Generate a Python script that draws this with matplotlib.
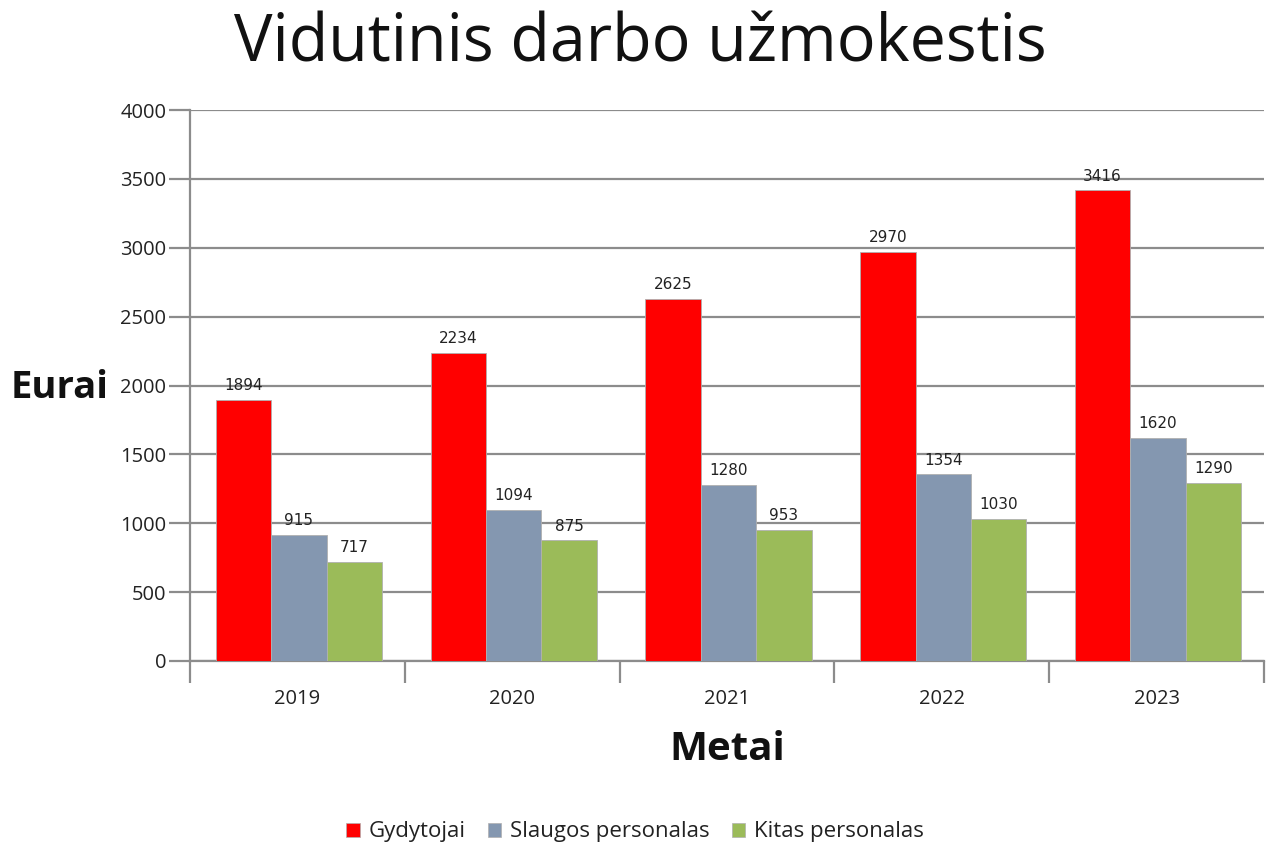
import numpy as np
import matplotlib
matplotlib.use('Agg')
from matplotlib import pyplot as plt
from matplotlib.patches import Patch

years = ['2019', '2020', '2021', '2022', '2023']
gydytojai = [1894, 2234, 2625, 2970, 3416]
slaugos = [915, 1094, 1280, 1354, 1620]
kitas = [717, 875, 953, 1030, 1290]
series_names = ['Gydytojai', 'Slaugos personalas', 'Kitas personalas']
colors = ['#ff0000', '#8497b0', '#9bbb59']

plt.rcParams['font.family'] = ['Open Sans', 'DejaVu Sans']

fig = plt.figure(figsize=(12.69, 8.44), dpi=100)
ax = fig.add_axes([190/1269, (844-661)/844, (1264-190)/1269, (661-110)/844])

x = np.arange(len(years))
w = 0.258
grid_c = '#8c8c8c'
for i, vals in enumerate([gydytojai, slaugos, kitas]):
  bars = ax.bar(x + (i - 1) * w + 0.007, vals, w, color=colors[i],
                edgecolor='#b0b0b0', linewidth=0.6, zorder=3)
  ax.bar_label(bars, labels=[str(v) for v in vals], padding=5,
               fontsize=11, family='DejaVu Sans', color='#222222', zorder=4)

ax.set_xlim(-0.5, len(years) - 0.5)
ax.set_ylim(0, 4000)
ax.set_yticks(np.arange(0, 4001, 500))
ax.yaxis.grid(True, color=grid_c, linewidth=1.6, zorder=0)
ax.set_axisbelow(True)

ax.set_xticks(x)
ax.set_xticklabels(years)
ax.set_xticks(np.arange(-0.5, len(years)), minor=True)
ax.tick_params(axis='x', which='major', length=0, pad=20, labelsize=14.5, labelcolor='#222222')
ax.tick_params(axis='x', which='minor', length=16, width=1.6, color=grid_c)
ax.tick_params(axis='y', length=15, width=1.6, color=grid_c, labelsize=14.5, labelcolor='#222222', pad=2)

for s in ['top', 'right']:
  ax.spines[s].set_visible(False)
for s in ['left', 'bottom']:
  ax.spines[s].set_color(grid_c)
  ax.spines[s].set_linewidth(1.6)

fig.text(640/1269, 1 - 45/844, 'Vidutinis darbo užmokestis', fontsize=46.5,
         ha='center', va='center', color='#111111')
fig.text(60/1269, 1 - 388/844, 'Eurai', fontsize=27.5, fontweight='bold',
         ha='center', va='center', color='#111111')
fig.text(727/1269, 1 - 750/844, 'Metai', fontsize=29, fontweight='bold',
         ha='center', va='center', color='#111111')

handles = [Patch(facecolor=c, edgecolor='#b0b0b0', linewidth=0.5) for c in colors]
fig.legend(handles, series_names, loc='center', bbox_to_anchor=(635/1269, 1 - 832/844),
           ncol=3, frameon=False, fontsize=16, handlelength=0.6, handleheight=0.6,
           handletextpad=0.4, columnspacing=1.0, labelcolor='#222222')

fig.savefig('out.png', dpi=100)
